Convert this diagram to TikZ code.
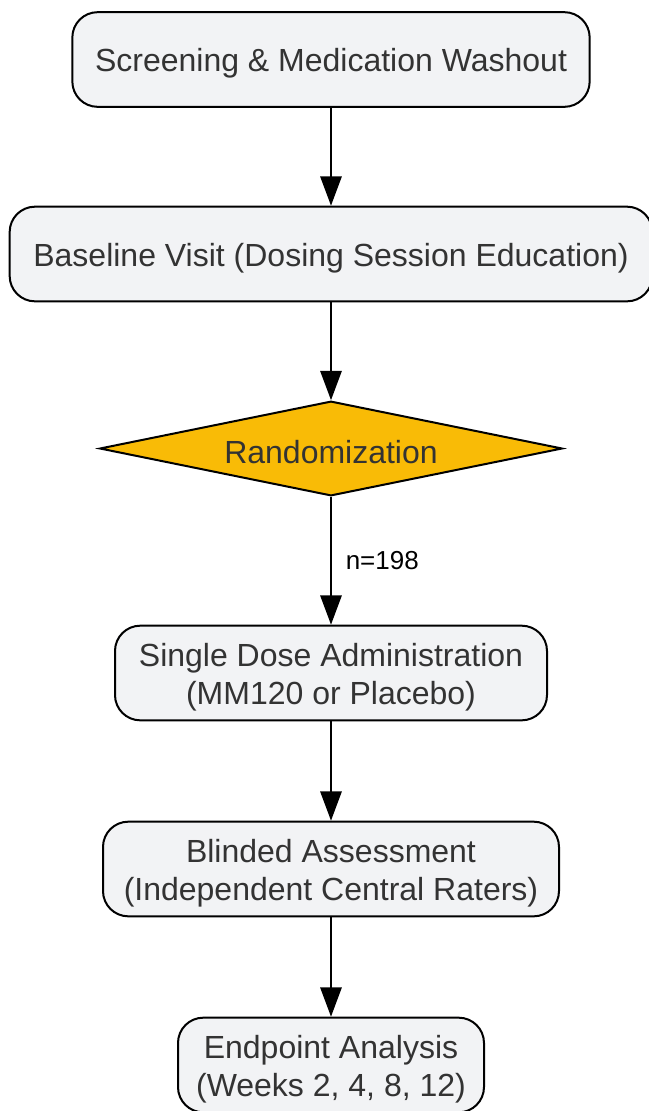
\documentclass[tikz,border=0pt]{standalone}
\usepackage{fontspec}
\setmainfont{Liberation Sans}
\usetikzlibrary{arrows.meta,positioning,shapes.geometric}
\definecolor{stepfill}{HTML}{F2F3F5}
\definecolor{randfill}{HTML}{F9BB06}
\definecolor{steptext}{HTML}{333333}

\begin{document}
\begin{tikzpicture}[
    x=0.75pt, y=-0.75pt,
    stepbox/.style={rectangle, rounded corners=19pt, fill=stepfill, draw=black,
                    line width=1.5pt, minimum height=71pt, align=center,
                    inner sep=0pt, text=steptext,
                    font=\fontsize{24}{28.5}\selectfont,
                    execute at begin node={\rule{0pt}{23.5pt}}},
    twoline/.style={text height=52pt},
    decide/.style={diamond, fill=randfill, draw=black, line width=1.5pt,
                   minimum width=347pt, minimum height=71pt, aspect=4.9,
                   inner sep=0pt, text=steptext,
                   font=\fontsize{24}{28.5}\selectfont,
                   execute at begin node={\rule{0pt}{22pt}}},
    arr/.style={-{Triangle[length=22pt,width=16pt]}, line width=1.5pt}
  ]

  % ---- Canvas ----
  \useasboundingbox (0,0) rectangle (649,1111);

  % ---- Flow steps ----
  \node[stepbox, minimum width=388pt] (screen) at (331,59.5)
    {Screening \& Medication Washout};
  \node[stepbox, minimum width=482pt] (base) at (331,254)
    {Baseline Visit (Dosing Session Education)};
  \node[decide] (rand) at (331,448.5) {Randomization};
  \node[stepbox, twoline, minimum width=324pt] (dose) at (331,673)
    {Single Dose Administration\\(MM120 or Placebo)};
  \node[stepbox, twoline, minimum width=342pt] (assess) at (331,869)
    {Blinded Assessment\\(Independent Central Raters)};
  \node[stepbox, twoline, minimum width=229.5pt] (endpt) at (331,1065)
    {Endpoint Analysis\\(Weeks 2, 4, 8, 12)};

  % ---- Connectors ----
  \draw[arr] (screen) -- (base);
  \draw[arr] (base) -- (rand);
  \draw[arr] (rand) -- node[right=7pt, font=\fontsize{19.5}{22}\selectfont] (ncount) {n=198} (dose);
  \draw[arr] (dose) -- (assess);
  \draw[arr] (assess) -- (endpt);

\end{tikzpicture}
\end{document}
